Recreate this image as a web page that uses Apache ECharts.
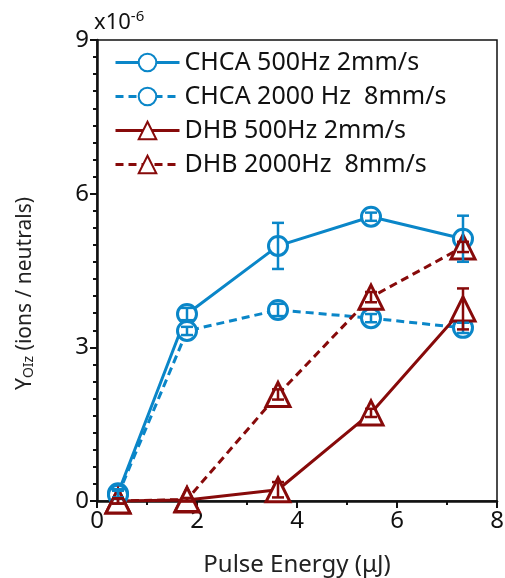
<!DOCTYPE html>
<html><head><meta charset="utf-8">
<script src="https://cdn.jsdelivr.net/npm/echarts@6/dist/echarts.min.js"></script>
<style>html,body{margin:0;padding:0;background:#fff}#c{width:505px;height:578px}</style>
</head><body><div id="c"></div>
<script>
const energies = [0.42, 1.8, 3.62, 5.48, 7.32];
const chca500 = [0.15, 3.65, 4.98, 5.55, 5.12];
const chca500Err = [0.08, 0.12, 0.45, 0.08, 0.45];
const chca2000 = [0.12, 3.32, 3.73, 3.57, 3.38];
const chca2000Err = [0.08, 0.08, 0.12, 0.08, 0.1];
const dhb500 = [0.0, 0.02, 0.22, 1.72, 3.75];
const dhb500Err = [0.05, 0.03, 0.15, 0.08, 0.4];
const dhb2000 = [0.0, 0.03, 2.08, 3.98, 4.96];
const dhb2000Err = [0.05, 0.03, 0.1, 0.1, 0.1];
const seriesNames = ['CHCA 500Hz 2mm/s', 'CHCA 2000 Hz  8mm/s', 'DHB 500Hz 2mm/s', 'DHB 2000Hz  8mm/s'];
const xTicks = [0, 2, 4, 6, 8];
const yTicks = [0, 3, 6, 9];

const BLUE = '#0a86c8', RED = '#870a0a';
const FONT = 'Noto Sans';

function pts(vals){ return energies.map((x,i)=>[x, vals[i]]); }
function errPts(vals, errs){ return energies.map((x,i)=>[x, vals[i]-errs[i], vals[i]+errs[i]]); }

function errRenderer(color){
  return function(params, api){
    const x = api.value(0), lo = api.value(1), hi = api.value(2);
    const a = api.coord([x, hi]), b = api.coord([x, lo]);
    const w = 6;
    const st = {stroke: color, lineWidth: 2.5};
    return {type:'group', children:[
      {type:'line', shape:{x1:a[0], y1:a[1], x2:b[0], y2:b[1]}, style: st},
      {type:'line', shape:{x1:a[0]-w, y1:a[1], x2:a[0]+w, y2:a[1]}, style: st},
      {type:'line', shape:{x1:b[0]-w, y1:b[1], x2:b[0]+w, y2:b[1]}, style: st}
    ]};
  };
}

function lineSeries(name, vals, color, dashed, symbol, size){
  return {
    name, type:'line', data: pts(vals), symbol, symbolSize: size,
    showAllSymbol: true,
    lineStyle:{color, width:3, type: dashed ? [8,5] : 'solid'},
    itemStyle:{color:'#fff', borderColor: color, borderWidth: 3},
    emphasis:{disabled:true}, animation:false, z: 2
  };
}
function errSeries(vals, errs, color){
  return {type:'custom', data: errPts(vals, errs), renderItem: errRenderer(color),
    encode:{x:0, y:[1,2]}, animation:false, z: 3, silent:true};
}

const chart = echarts.init(document.getElementById('c'), null, {renderer:'canvas'});
chart.setOption({
  animation:false,
  grid:{left:97, right:8, top:40, bottom:77, show:true, borderColor:'#111', borderWidth:1.5,
    outerBoundsMode:'none', containLabel:false},
  legend:{
    data: seriesNames, orient:'vertical', left:109, top:45,
    itemWidth:64, itemHeight:22, itemGap:9,
    lineStyle:{width:3},
    textStyle:{fontFamily:FONT, fontSize:25, color:'#111', padding:[0,0,0,0]},
    selectedMode:false
  },
  xAxis:{
    type:'value', min:0, max:8, interval:2,
    axisLine:{show:true, lineStyle:{color:'#111', width:2.5}},
    axisTick:{show:true, inside:false, length:7, lineStyle:{color:'#111', width:2}},
    minorTick:{show:true, splitNumber:2, length:4, lineStyle:{color:'#111', width:2}},
    splitLine:{show:false},
    axisLabel:{fontFamily:FONT, fontSize:24, color:'#111', margin:8,
      formatter: v => xTicks.includes(v) ? String(v) : ''},
    name:'Pulse Energy (μJ)', nameLocation:'middle', nameGap:52,
    nameTextStyle:{fontFamily:FONT, fontSize:24, color:'#222'}
  },
  yAxis:{
    type:'value', min:0, max:9, interval:3,
    axisLine:{show:true, lineStyle:{color:'#111', width:2.5}},
    axisTick:{show:true, inside:false, length:7, lineStyle:{color:'#111', width:2}},
    minorTick:{show:true, splitNumber:9, length:4, lineStyle:{color:'#111', width:2}},
    splitLine:{show:false},
    axisLabel:{fontFamily:FONT, fontSize:24, color:'#111', margin:8,
      formatter: v => yTicks.includes(v) ? String(v) : ''},
    name:'Y{sub|OIz} (ions / neutrals)', nameLocation:'middle', nameGap:61,
    nameTextStyle:{fontFamily:FONT, fontSize:21, color:'#222', padding:[0,46,0,0],
      rich:{sub:{fontFamily:FONT, fontSize:14, color:'#222', verticalAlign:'bottom', padding:[8,0,0,0]}}}
  },
  graphic:[{
    type:'text', left:94, top:9,
    style:{text:'x10{s|-6}', font:'22px '+FONT, fill:'#111',
      rich:{s:{fontFamily:FONT, fontSize:15, fill:'#111', verticalAlign:'top', padding:[0,0,12,0]}}}
  }],
  series:[
    lineSeries(seriesNames[0], chca500, BLUE, false, 'circle', 19),
    lineSeries(seriesNames[1], chca2000, BLUE, true, 'circle', 19),
    lineSeries(seriesNames[2], dhb500, RED, false, 'triangle', 24),
    lineSeries(seriesNames[3], dhb2000, RED, true, 'triangle', 24),
    errSeries(chca500, chca500Err, BLUE),
    errSeries(chca2000, chca2000Err, BLUE),
    errSeries(dhb500, dhb500Err, RED),
    errSeries(dhb2000, dhb2000Err, RED)
  ]
});
</script></body></html>
